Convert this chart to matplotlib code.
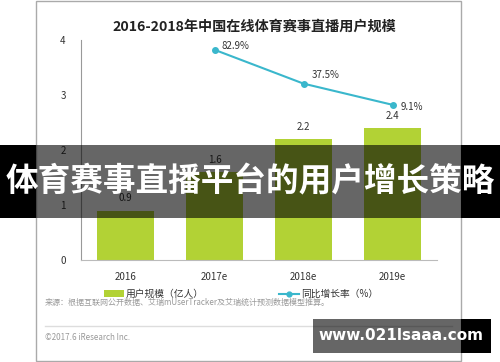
import matplotlib.pyplot as plt
from matplotlib.patches import Rectangle, Patch
from matplotlib.lines import Line2D

plt.rcParams['font.family'] = ['Noto Sans CJK SC', 'DejaVu Sans']

# data
years = ['2016', '2017e', '2018e', '2019e']
users = [0.9, 1.6, 2.2, 2.4]          # 用户规模（亿人）
growth = [None, 82.9, 37.5, 9.1]      # 同比增长率（%）
growth_labels = ['', '82.9%', '37.5%', '9.1%']
yticks = [0, 1, 2, 3, 4]

bar_col = '#b2d235'
line_col = '#3ab7cc'

W, H = 500, 362
fig = plt.figure(figsize=(5, 3.62), dpi=100)

def fx(px):
    return px / W

def fy(py):
    return 1 - py / H

# card border
fig.patches.append(Rectangle((fx(36), fy(361)), fx(461) - fx(36), fy(0.5) - fy(361),
                             transform=fig.transFigure, fill=False, edgecolor='#aaaaaa', lw=1))

ax = fig.add_axes([fx(81), fy(260), fx(437) - fx(81), fy(40) - fy(260)])
x = list(range(len(years)))
bars = ax.bar(x, users, width=0.63, color=bar_col)
for xi, v in zip(x, users):
    ax.text(xi, v + 0.22, f'{v}', ha='center', va='center', fontsize=7, color='#333333')

ax.set_xlim(-0.5, 3.5)
ax.set_ylim(0, 4)
ax.set_yticks(yticks)
ax.set_xticks(x)
ax.set_xticklabels(years)
ax.tick_params(axis='y', length=0, pad=11, labelsize=7, labelcolor='#333333')
ax.tick_params(axis='x', length=0, pad=9, labelsize=7, labelcolor='#333333')
for s in ['top', 'right']:
    ax.spines[s].set_visible(False)
ax.spines['left'].set_color('#999999')
ax.spines['bottom'].set_color('#bbbbbb')
ax.spines['left'].set_linewidth(0.8)

ax2 = ax.twinx()
gx = [xi for xi, g in zip(x, growth) if g is not None]
gy = [g for g in growth if g is not None]
ax2.plot(gx, gy, color=line_col, lw=1.5, marker='o', ms=4)
ax2.set_ylim(-199, 96)
ax2.axis('off')
offs = {1: (0.24, 5), 2: (0.25, 11), 3: (0.22, -2.5)}
for xi, g, lab in zip(x, growth, growth_labels):
    if g is None:
        continue
    dx, dy = offs[xi]
    ax2.text(xi + dx, g + dy, lab, ha='center', va='center', fontsize=7, color='#333333')

fig.text(fx(254), fy(27), '2016-2018年中国在线体育赛事直播用户规模', ha='center', va='center',
         fontsize=10.2, fontweight='bold', color='#222222')

# legend
h1 = Patch(facecolor=bar_col)
h2 = Line2D([0], [0], color=line_col, lw=1.5, marker='o', ms=3.5)
fig.legend([h1, h2], ['用户规模（亿人）', '同比增长率（%）'], loc='center',
           bbox_to_anchor=(fx(241), fy(294)), ncol=2, frameon=False, fontsize=7,
           handlelength=2.0, handletextpad=0.2, columnspacing=7.8, numpoints=1,
           labelcolor='#333333')

fig.text(fx(45), fy(302), '来源：根据互联网公开数据、艾瑞mUserTracker及艾瑞统计预测数据模型推算。',
         ha='left', va='center', fontsize=5.8, color='#999999')
fig.lines.append(Line2D([fx(45), fx(452)], [fy(326), fy(326)], transform=fig.transFigure,
                        color='#dddddd', lw=1))
fig.text(fx(45), fy(338), '©2017.6 iResearch Inc.', ha='left', va='center',
         fontsize=5.8, color='#999999')

# banner overlay
for x0, x1, a in [(0, 36, 1.0), (36, 461, 0.6), (461, 500, 1.0)]:
    fig.patches.append(Rectangle((fx(x0), fy(218)), fx(x1) - fx(x0), fy(145) - fy(218),
                                 transform=fig.transFigure, color='black', alpha=a,
                                 lw=0, zorder=10))
fig.text(0.5, fy(182), '体育赛事直播平台的用户增长策略', ha='center', va='center',
         fontsize=23.5, fontweight='bold', color='white', zorder=11)

# watermark
for x0, x1, a in [(313, 461, 0.6), (461, 491, 1.0)]:
    fig.patches.append(Rectangle((fx(x0), fy(353)), fx(x1) - fx(x0), fy(319) - fy(353),
                                 transform=fig.transFigure, color='black', alpha=a,
                                 lw=0, zorder=10))
fig.text(fx(401), fy(336), 'www.021lsaaa.com', ha='center', va='center',
         fontsize=11, fontweight='bold', color='white', family='DejaVu Sans', zorder=11)

fig.savefig('out.png', dpi=100)
